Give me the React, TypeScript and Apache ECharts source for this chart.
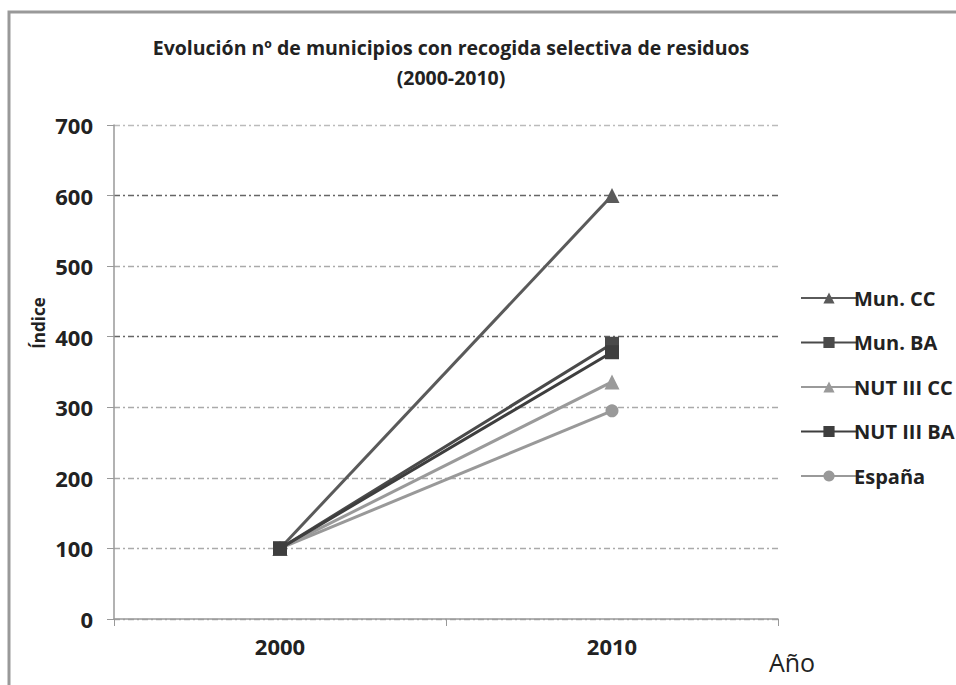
import React, { useEffect, useRef } from "react";
import * as echarts from "echarts";

const categories = ["2000", "2010"];
const seriesNames = ["Mun. CC", "Mun. BA", "NUT III CC", "NUT III BA", "España"];
const munCC = [100, 600];
const munBA = [100, 390];
const nutCC = [100, 336];
const nutBA = [100, 378];
const espana = [100, 295];
const yTicks = [0, 100, 200, 300, 400, 500, 600, 700];

const FONT = "'Open Sans', sans-serif";

export default function App() {
  const ref = useRef<HTMLDivElement>(null);
  useEffect(() => {
    if (!ref.current) return;
    const chart = echarts.init(ref.current, null, { renderer: "svg" });
    const mk = (name: string, data: number[], color: string, symbol: string, size: number, z: number) => ({
      name,
      type: "line",
      data,
      symbol,
      symbolSize: size,
      z,
      lineStyle: { color, width: 3 },
      itemStyle: { color },
    });
    chart.setOption({
      animation: false,
      backgroundColor: "#fff",
      title: {
        text: "Evolución nº de municipios con recogida selectiva de residuos\n(2000-2010)",
        left: 446,
        textAlign: "center",
        top: 27,
        textStyle: { fontFamily: FONT, fontSize: 19.5, fontWeight: "bold", color: "#222", lineHeight: 30 },
      },
      legend: {
        orient: "vertical",
        left: 795,
        top: 282,
        itemWidth: 56,
        itemHeight: 14,
        itemGap: 22.5,
        data: seriesNames,
        textStyle: { fontFamily: FONT, fontSize: 20, fontWeight: "bold", color: "#222", lineHeight: 22, padding: [0, 0, 0, -8] },
      },
      grid: { left: 114, right: 178, top: 125, bottom: 66 },
      xAxis: {
        type: "category",
        data: categories,
        boundaryGap: true,
        axisLine: { lineStyle: { color: "#999", width: 1.5 } },
        axisTick: { show: true, length: 7, lineStyle: { color: "#999" } },
        axisLabel: { fontFamily: FONT, fontSize: 22, fontWeight: "bold", color: "#222", margin: 16 },
      },
      yAxis: {
        type: "value",
        min: yTicks[0],
        max: yTicks[yTicks.length - 1],
        interval: 100,
        axisLine: { show: true, lineStyle: { color: "#999", width: 1.5 } },
        axisTick: { show: true, length: 7, lineStyle: { color: "#999" } },
        axisLabel: { fontFamily: FONT, fontSize: 22, fontWeight: "bold", color: "#222", margin: 21 },
        splitLine: {
          show: true,
          lineStyle: {
            color: ["#aaa", "#aaa", "#aaa", "#aaa", "#666", "#aaa", "#666", "#bbb"],
            type: [6, 3, 2, 3],
            width: 1.3,
          },
        },
      },
      graphic: [
        {
          type: "rect",
          shape: { x: 9, y: 12, width: 960, height: 700 },
          style: { fill: "none", stroke: "#999", lineWidth: 3 },
          silent: true,
        },
        {
          type: "text",
          x: 38,
          y: 323,
          rotation: Math.PI / 2,
          style: {
            text: "Índice",
            fontFamily: FONT,
            fontSize: 17,
            fontWeight: "bold",
            fill: "#222",
            align: "center",
            verticalAlign: "middle",
          },
        },
        {
          type: "text",
          x: 792,
          y: 662,
          style: {
            text: "Año",
            fontFamily: FONT,
            fontSize: 25,
            fill: "#222",
            align: "center",
            verticalAlign: "middle",
          },
        },
      ],
      series: [
        mk("Mun. CC", munCC, "#5a5a5a", "triangle", 15, 5),
        mk("Mun. BA", munBA, "#4a4a4a", "rect", 14, 4),
        mk("NUT III CC", nutCC, "#9a9a9a", "triangle", 15, 3),
        mk("NUT III BA", nutBA, "#3e3e3e", "rect", 14, 6),
        mk("España", espana, "#999999", "circle", 13, 2),
      ],
    });
    return () => chart.dispose();
  }, []);
  return <div ref={ref} style={{ position: "fixed", left: 0, top: 0, width: 956, height: 685 }} />;
}
